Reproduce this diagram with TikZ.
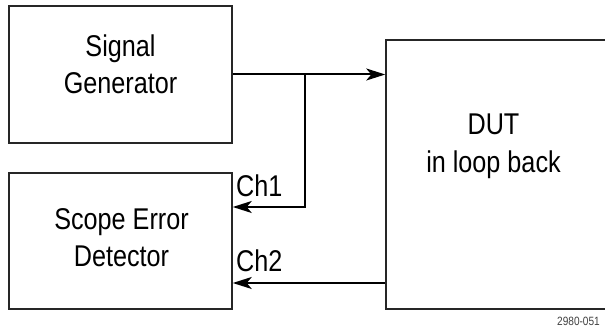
\documentclass[tikz,border=0pt]{standalone}
\usepackage{fontspec}
\setmainfont{Liberation Sans}
\newfontfamily\narrowf[FakeStretch=0.84]{Liberation Sans}
\usetikzlibrary{arrows.meta}
\begin{document}
\begin{tikzpicture}[x=1pt,y=1pt,
  box/.style={draw=black!85, line width=1.5pt, inner sep=0pt},
  lbl/.style={anchor=base, inner sep=0pt, font=\narrowf\fontsize{30}{36}\selectfont},
  chl/.style={anchor=base west, inner sep=0pt, font=\narrowf\fontsize{30}{36}\selectfont},
  arr/.style={line width=2pt, -{Stealth[length=19pt,width=12pt,inset=5pt]}}]
\useasboundingbox (0,0) rectangle (605,331);
% boxes
\node[box, minimum width=223pt, minimum height=137pt] (sg) at (120.5,256.5) {};
\node[box, minimum width=223pt, minimum height=136pt] (sed) at (120.5,90) {};
\node[box, minimum width=229pt, minimum height=269pt] (dut) at (500.5,156.5) {};
% texts
\node[lbl] (t1) at (120.5,274) {Signal};
\node[lbl] (t2) at (120.5,237) {Generator};
\node[lbl] (t3) at (121.5,101) {Scope Error};
\node[lbl] (t4) at (121.5,64) {Detector};
\node[lbl] (t5) at (493.5,196) {DUT};
\node[lbl] (t6) at (493.5,158) {in loop back};
\node[chl] (c1) at (236,134) {Ch1};
\node[chl] (c2) at (236,59) {Ch2};
\node[anchor=base west, inner sep=0pt, text=black!75, font=\narrowf\fontsize{12}{13}\selectfont] (id) at (557,5) {2980-051};
% connectors
\coordinate (br) at (304.5,256.5);
\coordinate (ch1) at ([yshift=34pt]sed.east);
\coordinate (ch2) at ([yshift=-42pt]sed.east);
\draw[arr] (sg.east) -- (sg.east -| dut.west);
\draw[arr] (br) |- (ch1);
\draw[arr] (dut.west |- ch2) -- (ch2);
\end{tikzpicture}
\end{document}
